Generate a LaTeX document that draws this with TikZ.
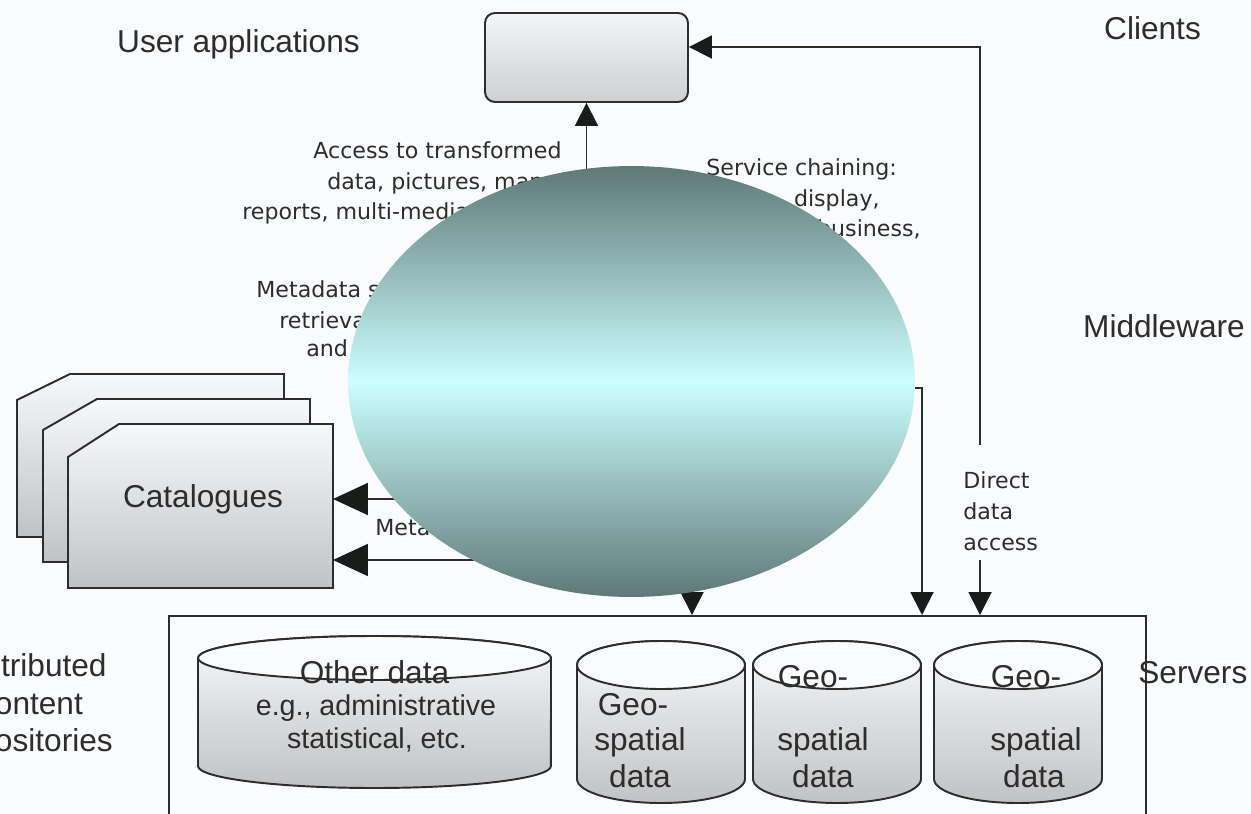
\documentclass[tikz,border=0pt]{standalone}
\usepackage{fontspec}
\setmainfont{Liberation Sans}
\newfontfamily\verd{DejaVu Sans}
\usetikzlibrary{arrows.meta,shapes.geometric}
\definecolor{bgc}{RGB}{249,251,253}
\definecolor{ink}{RGB}{45,45,45}
\definecolor{tipc}{RGB}{25,28,25}
\definecolor{ellD}{RGB}{95,120,120}
\definecolor{ellL}{RGB}{204,255,255}
\definecolor{boxT}{RGB}{247,248,250}
\definecolor{boxB}{RGB}{192,194,196}
\definecolor{uaT}{RGB}{244,245,247}
\definecolor{uaB}{RGB}{205,207,209}
\tikzset{
  bigtxt/.style={font=\fontsize{18}{21.3}\selectfont, text=ink, inner sep=0pt},
  midtxt/.style={font=\fontsize{16.3}{19}\selectfont, text=ink, inner sep=0pt},
  smalltxt/.style={font=\verd\fontsize{12.6}{17.5}\selectfont, text=ink, inner sep=0pt},
  conn/.style={draw=ink, line width=1.1pt},
  smalltri/.style={-{Triangle[length=0.46cm,width=0.46cm,fill=tipc,color=tipc]}},
  bigtri/.style={-{Triangle[length=0.7cm,width=0.64cm,fill=tipc,color=tipc]}},
  catbox/.style={draw=ink, line width=1.1pt, top color=boxT, bottom color=boxB},
  cylbody/.style={draw=ink, line width=1.1pt, top color=boxT, bottom color=boxB},
  cyltop/.style={draw=ink, line width=1.1pt, fill=bgc},
}
\begin{document}
\begin{tikzpicture}[x=0.02cm,y=-0.02cm]
\useasboundingbox (0,0) rectangle (1251,814);
\fill[bgc] (0,0) rectangle (1251,814);

% user application box
\node[draw=ink, line width=1.1pt, rounded corners=0.2cm, top color=uaT, bottom color=uaB,
      minimum width=4.06cm, minimum height=1.78cm, inner sep=0pt] (ua) at (586.5,57.5) {};

% layer labels
\node[bigtxt] (lua) at (238.5,44) {User applications};
\node[bigtxt] (lcl) at (1152.5,28) {Clients};
\node[bigtxt] (lmw) at (1164,326) {Middleware};
\node[bigtxt, align=center] (ldc) at (31,706) {Distributed\\content\\repositories};

% catalogues
\draw[catbox] (17,400) -- (70,374) -- (284,374) -- (284,537) -- (17,537) -- cycle;
\draw[catbox] (43,430) -- (97,399) -- (310,399) -- (310,562) -- (43,562) -- cycle;
\draw[catbox] (68,457) -- (119,424) -- (333,424) -- (333,588) -- (68,588) -- cycle;
\node[bigtxt] (cat) at (203,499) {Catalogues};
\coordinate (catA) at (333,499);
\coordinate (catB) at (333,560);

% servers box
\node[draw=ink, line width=1.1pt, minimum width=19.54cm, minimum height=4.5cm, inner sep=0pt,
      anchor=north west] (sv) at (168,615) {};
\node[bigtxt, anchor=west] (lsv) at (1138,673) {Servers};

% cylinders
\draw[cylbody] (198,658) -- (198,766) arc[start angle=180,end angle=360,x radius=3.53cm,y radius=0.44cm]
   -- (551,658) arc[start angle=0,end angle=180,x radius=3.53cm,y radius=0.44cm] -- cycle;
\draw[cyltop] (374.5,658) ellipse [x radius=3.53cm, y radius=0.44cm];
\node[bigtxt] (od1) at (374.5,672) {Other data};
\node[midtxt] (od2) at (376,708) {e.g., administrative};
\node[midtxt] (od3) at (377,740) {statistical, etc.};

\foreach \cx/\nm in {661/g1,837/g2,1018/g3}{
  \draw[cylbody] (\cx-84,665) -- (\cx-84,779) arc[start angle=180,end angle=360,x radius=1.68cm,y radius=0.48cm]
     -- (\cx+84,665) arc[start angle=0,end angle=180,x radius=1.68cm,y radius=0.48cm] -- cycle;
  \draw[cyltop] (\cx,665) ellipse [x radius=1.68cm, y radius=0.48cm];
}
\node[bigtxt] (g1a) at (633,705) {Geo-};
\node[bigtxt] (g1b) at (640,742) {spatial};
\node[bigtxt] (g1c) at (640,776) {data};
\node[bigtxt] (g2a) at (813,677) {Geo-};
\node[bigtxt] (g2b) at (823,742) {spatial};
\node[bigtxt] (g2c) at (823,776) {data};
\node[bigtxt] (g3a) at (1026,677) {Geo-};
\node[bigtxt] (g3b) at (1036,742) {spatial};
\node[bigtxt] (g3c) at (1034,776) {data};

% small labels
\node[smalltxt, anchor=west] (t1a) at (313,150) {Access to transformed};
\node[smalltxt, anchor=west] (t1b) at (327,183) {data, pictures, maps,};
\node[smalltxt, anchor=west] (t1c) at (242,213) {reports, multi-media, etc.};
\node[smalltxt, anchor=west] (t2a) at (706,169) {Service chaining:};
\node[smalltxt, anchor=east] (t2b) at (880,200) {e.g., display,};
\node[smalltxt, anchor=east] (t2c) at (921,230) {analysis, business,};
\node[smalltxt, anchor=west] (t3a) at (256,290) {Metadata search,};
\node[smalltxt, anchor=west] (t3b) at (279,321) {retrieval,};
\node[smalltxt, anchor=west] (t3c) at (306,350) {and update};
\node[smalltxt, anchor=west, align=left] (t4) at (963,511) {Direct\\data\\access};
\node[smalltxt, anchor=west] (t5) at (375,527) {Metadata};

% connectors
\coordinate (mwc) at (631.5,381.5);
\coordinate (daT) at (980,445);
\coordinate (daB) at (980,560);
\coordinate (svA) at (692,615);
\coordinate (svB) at (922,615);
\coordinate (svC) at (980,615);
\coordinate (scs) at (900,388);
\draw[conn, smalltri] (ua.south |- mwc) -- (ua.south);
\draw[conn, smalltri] (daT) |- ([yshift=0.21cm]ua.east);
\draw[conn, smalltri] (daB) -- (svC);
\draw[conn, smalltri] (scs) -| (svB);
\draw[conn, smalltri] (svA |- mwc) -- (svA);
\draw[conn, bigtri] (catA -| mwc) -- (catA);
\draw[conn, bigtri] (catB -| mwc) -- (catB);

% middleware ellipse
\node[ellipse, minimum width=11.34cm, minimum height=8.62cm, inner sep=0pt,
      top color=ellD, bottom color=ellD, middle color=ellL] (mw) at (mwc) {};
\end{tikzpicture}
\end{document}
